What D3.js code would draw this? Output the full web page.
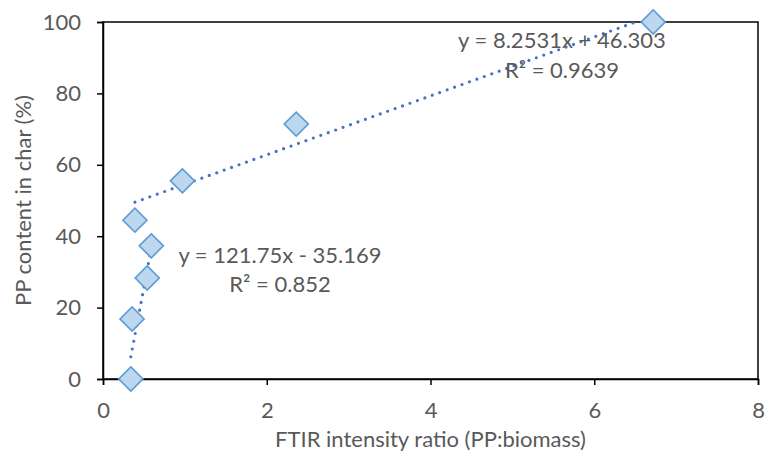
<!DOCTYPE html>
<html><head><meta charset="utf-8">
<script src="https://cdn.jsdelivr.net/npm/d3@7"></script>
<style>body{margin:0;background:#fff}svg{display:block}text{font-family:Lato,"Noto Sans",sans-serif;fill:#595959}</style>
</head><body><svg id="c" width="765" height="461"></svg>
<script>
const xValues = [0.34, 0.355, 0.54, 0.59, 0.39, 0.97, 2.36, 6.72];
const yValues = [0, 16.8, 28.3, 37.3, 44.5, 55.5, 71.4, 100];
const xTicks = [0, 2, 4, 6, 8];
const yTicks = [0, 20, 40, 60, 80, 100];
const fitLow = {slope: 121.75, intercept: -35.169, xmin: 0.34, xmax: 0.59};
const fitHigh = {slope: 8.2531, intercept: 46.303, xmin: 0.39, xmax: 6.72};
const fitLabels = ["y = 121.75x - 35.169", "R² = 0.852", "y = 8.2531x + 46.303", "R² = 0.9639"];
const xTitle = "FTIR intensity ratio (PP:biomass)";
const yTitle = "PP content in char (%)";

const svg = d3.select("#c");
const L = 103, R = 758, T = 22, B = 379;
const FS = 22;
const x = d3.scaleLinear().domain([0, 8]).range([L, R]);
const y = d3.scaleLinear().domain([0, 100]).range([B, T]);

svg.append("defs").append("clipPath").attr("id","clip").append("rect")
  .attr("x", L).attr("y", T).attr("width", R-L).attr("height", B-T);

// frame
svg.append("rect").attr("x", L).attr("y", T).attr("width", R-L).attr("height", B-T)
  .attr("fill","none").attr("stroke","#000").attr("stroke-width",1.5);

const xAxis = svg.append("g").attr("transform",`translate(0,${B})`)
  .call(d3.axisBottom(x).tickValues(xTicks).tickSize(6).tickPadding(17).tickFormat(d3.format("d")));
const yAxis = svg.append("g").attr("transform",`translate(${L},0)`)
  .call(d3.axisLeft(y).tickValues(yTicks).tickSize(6).tickPadding(16).tickFormat(d3.format("d")));
[xAxis, yAxis].forEach(g => {
  g.selectAll("path").attr("stroke","#000").attr("stroke-width",1.5);
  g.selectAll("line").attr("stroke","#000").attr("stroke-width",1.5);
  g.selectAll("text").attr("font-size",FS).attr("fill","#595959").attr("font-family","Lato");
});

// trendlines
const line = d3.line().x(d => x(d[0])).y(d => y(d[1]));
[fitLow, fitHigh].forEach(f => {
  const pts = [[f.xmin, f.slope*f.xmin + f.intercept],[f.xmax, f.slope*f.xmax + f.intercept]];
  svg.append("path").attr("d", line(pts)).attr("clip-path","url(#clip)")
    .attr("fill","none").attr("stroke","#4472C4").attr("stroke-width",3.2)
    .attr("stroke-linecap","round").attr("stroke-dasharray","0 7.9");
});

// points
const sym = d3.symbol().type(d3.symbolSquare).size(290);
svg.append("g").selectAll("path").data(xValues.map((v,i)=>[v,yValues[i]])).join("path")
  .attr("d", sym)
  .attr("transform", d => `translate(${x(d[0])},${y(d[1])}) rotate(45)`)
  .attr("fill","#BDD7EE").attr("stroke","#5B9BD5").attr("stroke-width",1.6);

// labels
const lab = [[280,263],[280,292],[562,48],[562,78]];
fitLabels.forEach((t,i) => {
  svg.append("text").attr("x", lab[i][0]).attr("y", lab[i][1]).attr("text-anchor","middle")
    .attr("font-size",FS).text(t);
});

svg.append("text").attr("x", (L+R)/2).attr("y", 447).attr("text-anchor","middle")
  .attr("font-size",FS).text(xTitle);
svg.append("text").attr("transform",`translate(31,${(T+B)/2}) rotate(-90)`).attr("text-anchor","middle")
  .attr("font-size",FS).text(yTitle);
</script></body></html>
